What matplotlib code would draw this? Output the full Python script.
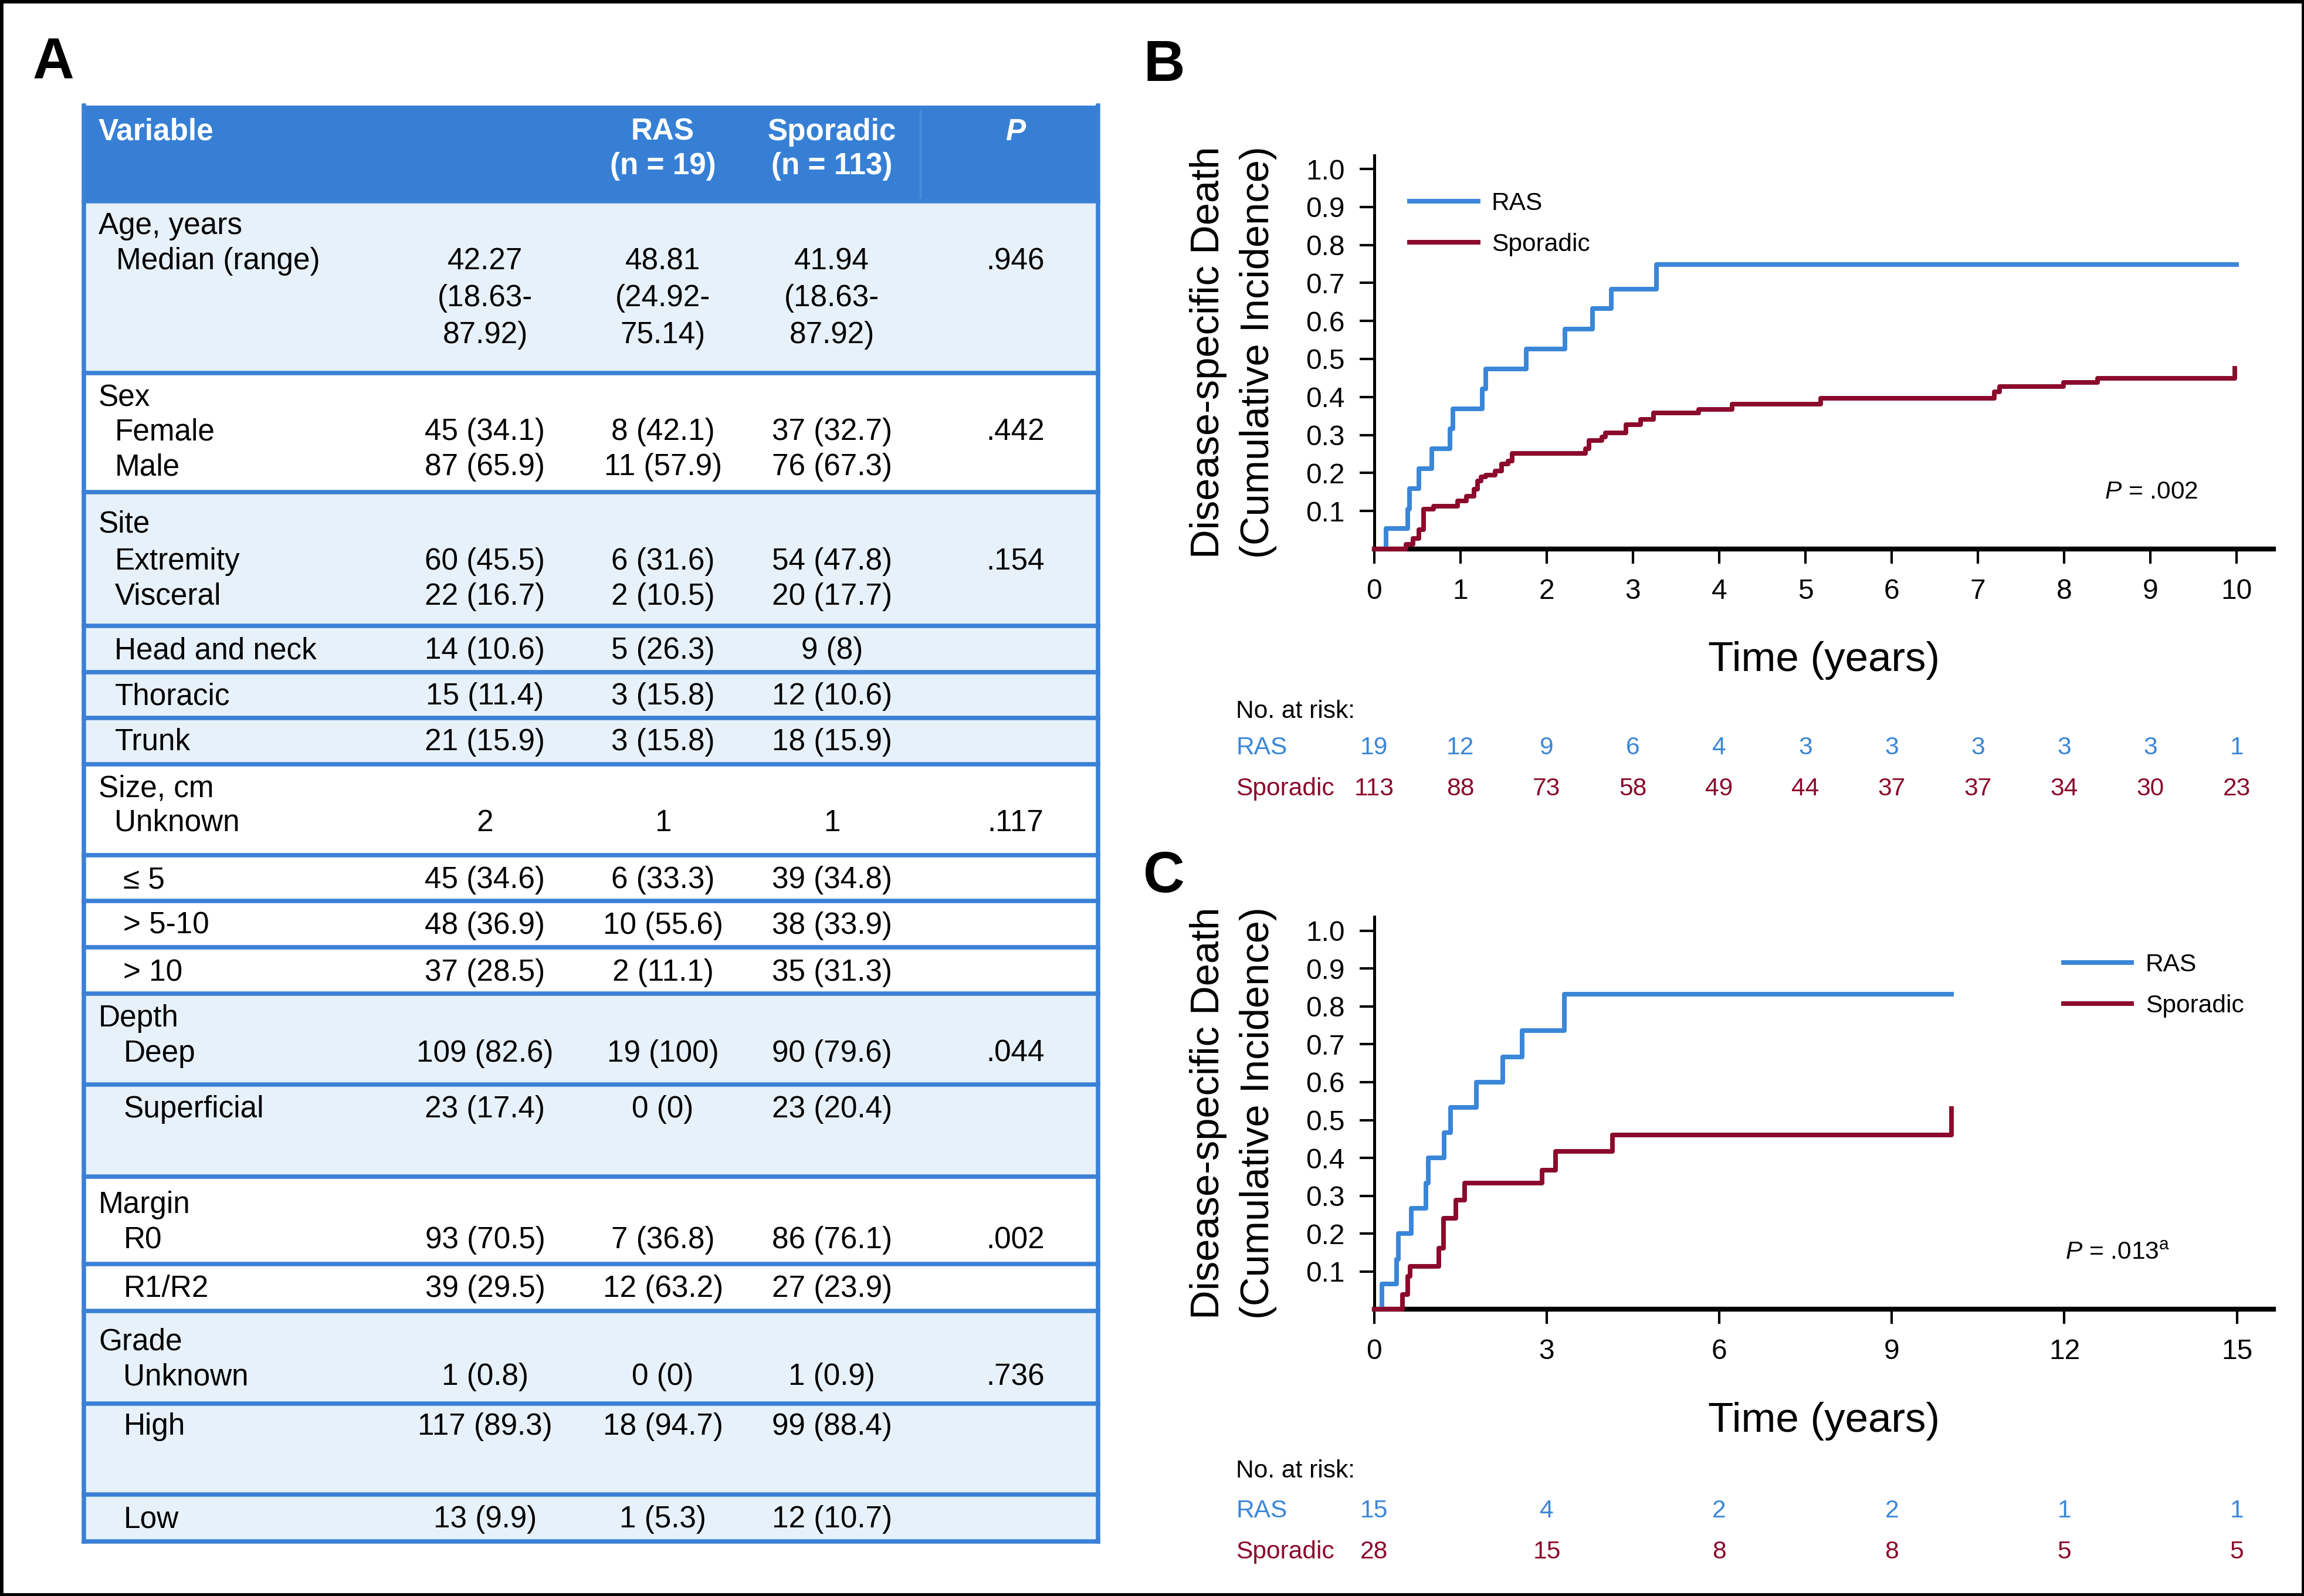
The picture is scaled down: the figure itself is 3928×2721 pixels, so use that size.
import matplotlib
matplotlib.use('Agg')
import matplotlib.pyplot as plt
from matplotlib import font_manager
from matplotlib.patches import Rectangle
from matplotlib.transforms import blended_transform_factory

plt.rcParams['font.family'] = ['Liberation Sans', 'DejaVu Sans']
plt.rcParams['mathtext.fontset'] = 'custom'
plt.rcParams['mathtext.rm'] = 'Liberation Sans'
plt.rcParams['mathtext.it'] = 'Liberation Sans:italic'

# the y labels use a tall, narrow face in the original
installed = {f.name for f in font_manager.fontManager.ttflist}
if 'Liberation Sans Narrow' in installed:
    YLAB_FONT, YLAB_SIZE = 'Liberation Sans Narrow', 19
else:
    YLAB_FONT, YLAB_SIZE = 'Liberation Sans', 16.5

BLUE = '#3A86D8'
RED = '#8B0A2C'
HEAD_BLUE = '#367FD5'
LINE_BLUE = '#3A80D6'
LIGHT = '#E7F1FA'

# ---------------- table (panel A) data ----------------
row_labels = ['Age, years', 'Median (range)', '', '', 'Sex', 'Female', 'Male',
              'Site', 'Extremity', 'Visceral', 'Head and neck', 'Thoracic', 'Trunk',
              'Size, cm', 'Unknown', '≤ 5', '> 5-10', '> 10',
              'Depth', 'Deep', 'Superficial', 'Margin', 'R0', 'R1/R2',
              'Grade', 'Unknown', 'High', 'Low']
overall = ['', '42.27', '(18.63-', '87.92)', '', '45 (34.1)', '87 (65.9)',
           '', '60 (45.5)', '22 (16.7)', '14 (10.6)', '15 (11.4)', '21 (15.9)',
           '', '2', '45 (34.6)', '48 (36.9)', '37 (28.5)',
           '', '109 (82.6)', '23 (17.4)', '', '93 (70.5)', '39 (29.5)',
           '', '1 (0.8)', '117 (89.3)', '13 (9.9)']
ras = ['', '48.81', '(24.92-', '75.14)', '', '8 (42.1)', '11 (57.9)',
       '', '6 (31.6)', '2 (10.5)', '5 (26.3)', '3 (15.8)', '3 (15.8)',
       '', '1', '6 (33.3)', '10 (55.6)', '2 (11.1)',
       '', '19 (100)', '0 (0)', '', '7 (36.8)', '12 (63.2)',
       '', '0 (0)', '18 (94.7)', '1 (5.3)']
sporadic = ['', '41.94', '(18.63-', '87.92)', '', '37 (32.7)', '76 (67.3)',
            '', '54 (47.8)', '20 (17.7)', '9 (8)', '12 (10.6)', '18 (15.9)',
            '', '1', '39 (34.8)', '38 (33.9)', '35 (31.3)',
            '', '90 (79.6)', '23 (20.4)', '', '86 (76.1)', '27 (23.9)',
            '', '1 (0.9)', '99 (88.4)', '12 (10.7)']
p_values = ['', '.946', '', '', '', '.442', '', '', '.154', '', '', '', '',
            '', '.117', '', '', '', '', '.044', '', '', '.002', '', '',
            '.736', '', '']
header_cols = ['RAS\n(n = 19)', 'Sporadic\n(n = 113)']

# ---------------- curves (panels B and C) ----------------
b_ras_t = [0, 0.14, 0.39, 0.41, 0.52, 0.67, 0.88, 0.91, 1.25, 1.29, 1.76, 2.21,
           2.53, 2.75, 3.27, 10.0]
b_ras_y = [0, 0.053, 0.105, 0.158, 0.211, 0.263, 0.316, 0.368, 0.421, 0.474,
           0.526, 0.579, 0.632, 0.684, 0.748, 0.748]
b_spo_t = [0, 0.37, 0.45, 0.52, 0.57, 0.69, 0.97, 1.07, 1.16, 1.20, 1.24, 1.29,
           1.40, 1.48, 1.55, 1.60, 2.45, 2.49, 2.64, 2.68, 2.92, 3.09, 3.24,
           3.76, 4.15, 5.18, 7.19, 7.25, 7.99, 8.39, 9.98]
b_spo_y = [0, 0.012, 0.028, 0.050, 0.104, 0.112, 0.126, 0.139, 0.157, 0.179,
           0.190, 0.195, 0.205, 0.223, 0.232, 0.252, 0.263, 0.285, 0.294, 0.306,
           0.327, 0.341, 0.358, 0.367, 0.381, 0.396, 0.414, 0.427, 0.438, 0.449,
           0.476]
c_ras_t = [0, 0.13, 0.39, 0.42, 0.64, 0.90, 0.94, 1.22, 1.33, 1.78, 2.23, 2.57,
           3.31, 10.04]
c_ras_y = [0, 0.067, 0.133, 0.200, 0.267, 0.333, 0.400, 0.467, 0.533, 0.600,
           0.667, 0.737, 0.833, 0.833]
c_spo_t = [0, 0.49, 0.58, 0.62, 1.12, 1.20, 1.42, 1.57, 2.92, 3.15, 4.14, 10.04]
c_spo_y = [0, 0.039, 0.087, 0.114, 0.161, 0.241, 0.289, 0.333, 0.367, 0.417,
           0.461, 0.530]

b_ticks = [0, 1, 2, 3, 4, 5, 6, 7, 8, 9, 10]
b_risk_ras = [19, 12, 9, 6, 4, 3, 3, 3, 3, 3, 1]
b_risk_spo = [113, 88, 73, 58, 49, 44, 37, 37, 34, 30, 23]
c_ticks = [0, 3, 6, 9, 12, 15]
c_risk_ras = [15, 4, 2, 2, 1, 1]
c_risk_spo = [28, 15, 8, 8, 5, 5]
y_ticks = [0.1, 0.2, 0.3, 0.4, 0.5, 0.6, 0.7, 0.8, 0.9, 1.0]

# layout grid (reference pixels of a 1568 x 1086 view)
W, H = 1568, 1086
row_y = [152, 176, 201, 226, 269, 292, 316, 355, 380, 404, 441, 472, 503,
         535, 558, 597, 628, 660, 691, 715, 753, 818, 842, 875, 911, 935, 969, 1032]
row_x = [67, 79, 79, 79, 67, 78, 78, 67, 78, 78, 78, 78, 78, 67, 78, 84, 84, 84,
         67, 84, 84, 67, 84, 84, 67, 84, 84, 84]
boxes = [(137, 254, LIGHT), (254, 335, 'white'), (335, 426, LIGHT),
         (426, 457.5, LIGHT), (457.5, 488.5, LIGHT), (488.5, 520, LIGHT),
         (520, 582, 'white'), (582, 613, 'white'), (613, 644.5, 'white'),
         (644.5, 676, 'white'), (676, 738, LIGHT), (738, 800.5, LIGHT),
         (800.5, 860, 'white'), (860, 892, 'white'), (892, 955, LIGHT),
         (955, 1017, LIGHT), (1017, 1049, LIGHT)]
TX0, TX1 = 57, 747
col_x = [330, 451, 566, 691]
DY = 2  # text sits a little low in its row

fig = plt.figure(figsize=(3929 / 300, 2721 / 300), dpi=300)

tab = fig.add_axes([0, 0, 1, 1])
tab.set_xlim(0, W)
tab.set_ylim(H, 0)
tab.axis('off')
tab.add_patch(Rectangle((0, 0), W, H, fill=False, ec='black', lw=2.6, clip_on=False))

FS = 12.3
# header
tab.add_patch(Rectangle((TX0, 72), TX1 - TX0, 137 - 72, fc=HEAD_BLUE, ec='none'))
tab.plot([626, 626], [76, 135], color='#4A8FDC', lw=0.8)
tab.text(67, 88 + DY, 'Variable', color='white', fontweight='bold', fontsize=FS,
         ha='left', va='center')
for cx, txt in zip(col_x[1:3], header_cols):
    top, bot = txt.split('\n')
    tab.text(cx, 88 + DY, top, color='white', fontweight='bold', fontsize=FS,
             ha='center', va='center')
    tab.text(cx, 111 + DY, bot, color='white', fontweight='bold', fontsize=FS,
             ha='center', va='center')
tab.text(col_x[3], 88 + DY, 'P', color='white', fontweight='bold', style='italic',
         fontsize=FS, ha='center', va='center')

for top, bot, fc in boxes:
    tab.add_patch(Rectangle((TX0, top), TX1 - TX0, bot - top, fc=fc, ec='none'))
for top, bot, fc in boxes:
    tab.plot([TX0, TX1], [bot, bot], color=LINE_BLUE, lw=1.8, solid_capstyle='projecting')
tab.plot([TX0, TX1], [137, 137], color=LINE_BLUE, lw=1.8)
tab.plot([TX0, TX0], [72, 1049], color=LINE_BLUE, lw=1.8)
tab.plot([TX1, TX1], [72, 1049], color=LINE_BLUE, lw=1.8)

for i, lab in enumerate(row_labels):
    y = row_y[i] + DY
    tab.text(row_x[i], y, lab, fontsize=FS, ha='left', va='center')
    for cx, vals in zip(col_x, [overall, ras, sporadic, p_values]):
        if vals[i]:
            tab.text(cx, y, vals[i], fontsize=FS, ha='center', va='center')

# panel letters
for lab, x, y in [('A', 22, 43), ('B', 778, 45), ('C', 778, 597)]:
    tab.text(x, y, lab, fontsize=23.5, fontweight='bold', ha='left', va='center')

SMALL = 10.2


def km_panel(ax, ras_t, ras_y, spo_t, spo_y, ticks, xmax, risk_ras, risk_spo,
             risk_y, leg_anchor, ptext, ppos):
    ax.plot(ras_t, ras_y, drawstyle='steps-post', color=BLUE, lw=1.9,
            label='RAS', zorder=3, clip_on=False)
    ax.plot(spo_t, spo_y, drawstyle='steps-post', color=RED, lw=1.9,
            label='Sporadic', zorder=3, clip_on=False)
    ax.set_xlim(0, xmax)
    ax.set_ylim(0, 1.036)
    ax.set_xticks(ticks)
    ax.set_yticks(y_ticks)
    ax.set_yticklabels([f'{v:.1f}' for v in y_ticks])
    ax.spines['top'].set_visible(False)
    ax.spines['right'].set_visible(False)
    ax.spines['left'].set_linewidth(1.2)
    ax.spines['bottom'].set_linewidth(2.0)
    ax.tick_params(direction='out', length=6, width=1.0, labelsize=11.5, pad=6)
    ax.set_xlabel('Time (years)', fontsize=17, labelpad=15)
    ax.set_ylabel('Disease-specific Death\n(Cumulative Incidence)',
                  fontsize=YLAB_SIZE, family=[YLAB_FONT, 'DejaVu Sans'],
                  linespacing=1.42)
    ax.yaxis.set_label_coords(-0.108, 0.5)
    ax.legend(loc='upper left', bbox_to_anchor=leg_anchor, frameon=False,
              fontsize=SMALL, handlelength=2.75, handletextpad=0.55,
              labelspacing=0.7, borderpad=0, borderaxespad=0)
    ax.text(ppos[0], ppos[1], ptext, transform=ax.transAxes, fontsize=SMALL,
            ha='left', va='center')
    trans = blended_transform_factory(ax.transData, fig.transFigure)
    y0, y1, y2 = risk_y
    fig.text(841 / W, 1 - y0 / H, 'No. at risk:', fontsize=SMALL, ha='left', va='center')
    fig.text(841 / W, 1 - y1 / H, 'RAS', fontsize=SMALL, color=BLUE, ha='left', va='center')
    fig.text(841 / W, 1 - y2 / H, 'Sporadic', fontsize=SMALL, color=RED, ha='left', va='center')
    for x, a, b in zip(ticks, risk_ras, risk_spo):
        ax.text(x, 1 - y1 / H, str(a), transform=trans, fontsize=SMALL, color=BLUE,
                ha='center', va='center')
        ax.text(x, 1 - y2 / H, str(b), transform=trans, fontsize=SMALL, color=RED,
                ha='center', va='center')


axB = fig.add_axes([935 / W, 1 - 373.5 / H, (1547 - 935) / W, (373.5 - 105.7) / H])
km_panel(axB, b_ras_t, b_ras_y, b_spo_t, b_spo_y, b_ticks, 10.43,
         b_risk_ras, b_risk_spo, (484, 509, 537), (0.039, 0.907),
         r'$\mathit{P}$ = .002', (0.812, 0.145))

axC = fig.add_axes([935 / W, 1 - 891 / H, (1547 - 935) / W, (891 - 624) / H])
km_panel(axC, c_ras_t, c_ras_y, c_spo_t, c_spo_y, c_ticks, 15.64,
         c_risk_ras, c_risk_spo, (1001, 1028, 1056), (0.766, 0.908),
         r'$\mathit{P}$ = .013$^{\mathrm{a}}$', (0.768, 0.144))

fig.savefig('out.png', dpi=300)
